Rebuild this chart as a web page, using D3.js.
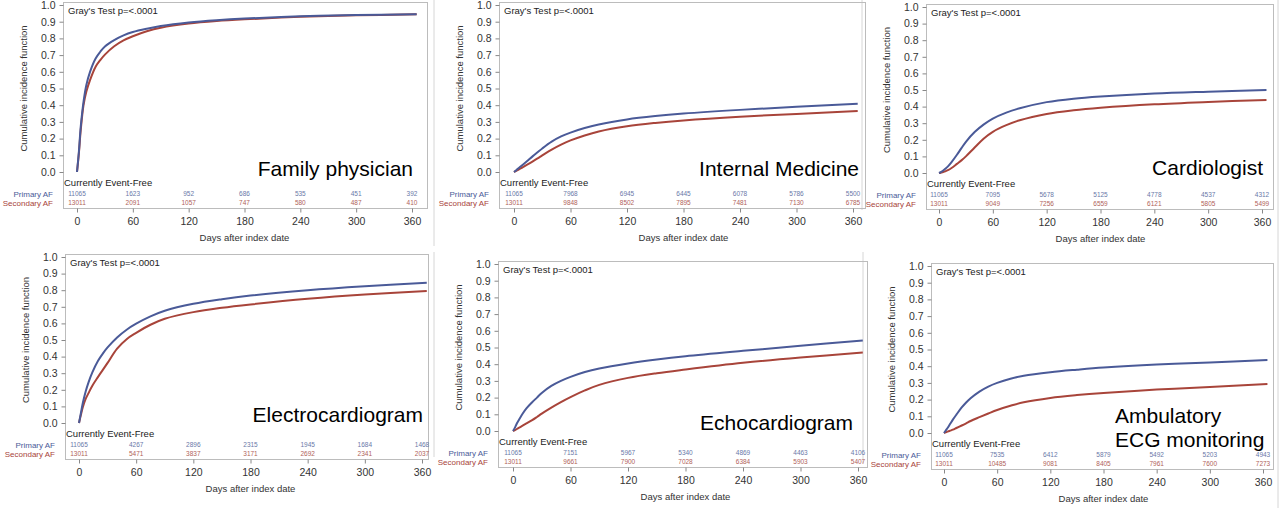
<!DOCTYPE html>
<html>
<head>
<meta charset="utf-8">
<script src="https://cdn.jsdelivr.net/npm/d3@7"></script>
<style>
  html, body { margin: 0; padding: 0; background: #fff; }
  svg { display: block; font-family: "Liberation Sans", Arial, sans-serif; }
</style>
</head>
<body>
<svg id="chart" width="1284" height="508"></svg>
<script>
// Sample days for the cumulative incidence curves
const days = [0, 2, 4, 7, 10, 14, 20, 25, 30, 40, 50, 60, 75, 90, 120, 150, 180, 240, 300, 365];
const atRiskDays = [0, 60, 120, 180, 240, 300, 360];
const groups = ["Primary AF", "Secondary AF"];

const panelNames = ["Family physician", "Internal Medicine", "Cardiologist",
  "Electrocardiogram", "Echocardiogram", "Ambulatory ECG monitoring"];

// Cumulative incidence (primary / secondary)
const familyPrimary = [0, 0.12, 0.27, 0.42, 0.52, 0.60, 0.68, 0.72, 0.752, 0.79, 0.818, 0.838, 0.858, 0.874, 0.895, 0.909, 0.919, 0.932, 0.94, 0.945];
const familySecondary = [0, 0.11, 0.25, 0.40, 0.48, 0.55, 0.63, 0.67, 0.703, 0.753, 0.788, 0.813, 0.843, 0.864, 0.889, 0.904, 0.914, 0.929, 0.938, 0.944];
const internalPrimary = [0, 0.009, 0.019, 0.033, 0.047, 0.066, 0.095, 0.118, 0.141, 0.182, 0.213, 0.236, 0.263, 0.285, 0.315, 0.335, 0.35, 0.372, 0.39, 0.408];
const internalSecondary = [0, 0.006, 0.012, 0.021, 0.031, 0.044, 0.064, 0.081, 0.099, 0.134, 0.164, 0.189, 0.219, 0.243, 0.274, 0.294, 0.309, 0.331, 0.348, 0.365];
const cardioPrimary = [0, 0.005, 0.012, 0.025, 0.04, 0.066, 0.11, 0.15, 0.188, 0.248, 0.293, 0.328, 0.364, 0.39, 0.427, 0.448, 0.461, 0.479, 0.49, 0.50];
const cardioSecondary = [0, 0.002, 0.005, 0.01, 0.017, 0.03, 0.055, 0.076, 0.10, 0.155, 0.208, 0.248, 0.288, 0.318, 0.356, 0.378, 0.393, 0.414, 0.428, 0.44];
const ecgPrimary = [0, 0.06, 0.12, 0.19, 0.245, 0.305, 0.375, 0.418, 0.455, 0.515, 0.562, 0.598, 0.642, 0.676, 0.718, 0.746, 0.768, 0.80, 0.824, 0.845];
const ecgSecondary = [0, 0.05, 0.095, 0.145, 0.18, 0.225, 0.278, 0.32, 0.362, 0.448, 0.505, 0.543, 0.592, 0.628, 0.668, 0.694, 0.714, 0.748, 0.774, 0.795];
const echoPrimary = [0, 0.02, 0.045, 0.075, 0.103, 0.135, 0.172, 0.2, 0.228, 0.27, 0.3, 0.324, 0.353, 0.374, 0.404, 0.428, 0.448, 0.48, 0.51, 0.542];
const echoSecondary = [0, 0.005, 0.012, 0.022, 0.032, 0.045, 0.065, 0.084, 0.104, 0.14, 0.173, 0.203, 0.243, 0.276, 0.318, 0.346, 0.368, 0.408, 0.44, 0.47];
const ambuPrimary = [0, 0.015, 0.03, 0.055, 0.08, 0.11, 0.153, 0.183, 0.208, 0.248, 0.278, 0.30, 0.325, 0.343, 0.364, 0.379, 0.392, 0.41, 0.422, 0.437];
const ambuSecondary = [0, 0.004, 0.008, 0.014, 0.02, 0.03, 0.045, 0.058, 0.072, 0.095, 0.117, 0.138, 0.163, 0.184, 0.21, 0.227, 0.24, 0.26, 0.276, 0.293];

// Currently event-free counts at each tick
const familyRisk = [[11065, 1623, 952, 686, 535, 451, 392], [13011, 2091, 1057, 747, 580, 487, 410]];
const internalRisk = [[11065, 7968, 6945, 6445, 6078, 5786, 5500], [13011, 9848, 8502, 7895, 7481, 7130, 6785]];
const cardioRisk = [[11065, 7095, 5678, 5125, 4778, 4537, 4312], [13011, 9049, 7256, 6559, 6121, 5805, 5499]];
const ecgRisk = [[11065, 4267, 2896, 2315, 1945, 1684, 1468], [13011, 5471, 3837, 3171, 2692, 2341, 2037]];
const echoRisk = [[11065, 7151, 5967, 5340, 4869, 4463, 4106], [13011, 9661, 7900, 7028, 6384, 5903, 5407]];
const ambuRisk = [[11065, 7535, 6412, 5879, 5492, 5203, 4943], [13011, 10485, 9081, 8405, 7961, 7600, 7273]];

const COLORS = ["#4a5a98", "#a8443a"];
const RISK_COLORS = ["#6a78a8", "#b0625a"];

// Where each panel sits in the picture
const layouts = [
  {left: 63, right: 427, x0: 77, x360: 412, y0: 172, y1: 5,
    lines: ["Family physician"], lx: 413, ly: [176], anchor: "end"},
  {left: 499, right: 865, x0: 514, x360: 853, y0: 172, y1: 5,
    lines: ["Internal Medicine"], lx: 859, ly: [176], anchor: "end"},
  {left: 926, right: 1273, x0: 939, x360: 1262, y0: 173, y1: 7,
    lines: ["Cardiologist"], lx: 1263, ly: [175], anchor: "end"},
  {left: 65, right: 428, x0: 79, x360: 422, y0: 423, y1: 257,
    lines: ["Electrocardiogram"], lx: 423, ly: [422], anchor: "end"},
  {left: 498, right: 867, x0: 513, x360: 858, y0: 431, y1: 264,
    lines: ["Echocardiogram"], lx: 853, ly: [430], anchor: "end"},
  {left: 931, right: 1273, x0: 944, x360: 1263, y0: 433, y1: 266,
    lines: ["Ambulatory", "ECG monitoring"], lx: 1115, ly: [423, 447], anchor: "start"},
];

const curves = [
  [familyPrimary, familySecondary], [internalPrimary, internalSecondary],
  [cardioPrimary, cardioSecondary], [ecgPrimary, ecgSecondary],
  [echoPrimary, echoSecondary], [ambuPrimary, ambuSecondary]
];
const risks = [familyRisk, internalRisk, cardioRisk, ecgRisk, echoRisk, ambuRisk];

let svg = d3.select("#chart");

// faint borders of the pasted screenshots
const seams = [[434, 0, 434, 246], [862, 0, 862, 210], [1278, 0, 1278, 508],
  [434, 252, 434, 457], [863, 252, 863, 463]];
svg.selectAll("line.seam").data(seams).enter().append("line")
  .attr("class", "seam")
  .attr("x1", d => d[0]).attr("y1", d => d[1])
  .attr("x2", d => d[2]).attr("y2", d => d[3])
  .attr("stroke", "#d6d6d6").attr("stroke-width", 1);

layouts.forEach((lay, i) => makeCIFPanel(svg, lay, curves[i], risks[i], panelNames[i]));

function makeCIFPanel(svg, lay, series, risk, name) {
  let top = lay.y1 - 3;
  let bottom = lay.y0 + 36;

  let x = d3.scaleLinear().domain([0, 360]).range([lay.x0, lay.x360]);
  let y = d3.scaleLinear().domain([0, 1]).range([lay.y0, lay.y1]);

  let g = svg.append("g").attr("class", "panel");

  g.append("rect")
    .attr("x", lay.left + 0.5).attr("y", top + 0.5)
    .attr("width", lay.right - lay.left).attr("height", bottom - top)
    .attr("fill", "none").attr("stroke", "#bcbcbc");

  let yAxis = g.append("g")
    .attr("transform", `translate(${lay.left + 0.5},0)`)
    .call(d3.axisLeft(y).tickValues(d3.range(0, 1.001, 0.1))
      .tickFormat(d3.format(".1f")).tickSize(4).tickPadding(4));
  yAxis.select(".domain").remove();
  yAxis.selectAll("line").attr("stroke", "#888");
  yAxis.selectAll("text").attr("fill", "#333").style("font-size", "10.5px")
    .style("font-family", "Liberation Sans, Arial, sans-serif");

  let xAxis = g.append("g")
    .attr("transform", `translate(0,${bottom + 0.5})`)
    .call(d3.axisBottom(x).tickValues(atRiskDays).tickSize(4).tickPadding(5));
  xAxis.select(".domain").remove();
  xAxis.selectAll("line").attr("stroke", "#888");
  xAxis.selectAll("text").attr("fill", "#333").style("font-size", "10.5px")
    .style("font-family", "Liberation Sans, Arial, sans-serif");

  g.append("text")
    .attr("transform", `translate(${lay.left - 39},${(lay.y0 + lay.y1) / 2}) rotate(-90)`)
    .attr("text-anchor", "middle").attr("dy", "0.35em")
    .attr("font-size", "9.5px").attr("fill", "#333")
    .text("Cumulative incidence function");

  g.append("text")
    .attr("x", (lay.x0 + lay.x360) / 2).attr("y", lay.y0 + 66).attr("dy", "0.35em")
    .attr("text-anchor", "middle").attr("font-size", "9.5px").attr("fill", "#333")
    .text("Days after index date");

  g.append("text")
    .attr("x", lay.left + 5).attr("y", lay.y1 + 6).attr("dy", "0.35em")
    .attr("font-size", "9.5px").attr("fill", "#222")
    .text("Gray's Test p=<.0001");

  let line = d3.line()
    .x((d, j) => x(days[j]))
    .y(d => y(d))
    .curve(d3.curveCatmullRom.alpha(0.5));

  // secondary first so the primary line sits on top
  [1, 0].forEach(k => {
    g.append("path")
      .datum(series[k])
      .attr("d", line)
      .attr("fill", "none")
      .attr("stroke", COLORS[k])
      .attr("stroke-width", 2)
      .attr("stroke-linejoin", "round");
  });

  let big = g.append("text")
    .attr("text-anchor", lay.anchor)
    .attr("font-size", "21px").attr("fill", "#000");
  lay.lines.forEach((t, j) => {
    big.append("tspan").attr("x", lay.lx).attr("y", lay.ly[j]).text(t);
  });

  g.append("text")
    .attr("x", lay.left + 1).attr("y", lay.y0 + 11).attr("dy", "0.35em")
    .attr("font-size", "9.5px").attr("fill", "#222")
    .text("Currently Event-Free");

  groups.forEach((grp, k) => {
    let rowY = lay.y0 + 22 + k * 9;
    g.append("text")
      .attr("x", lay.left - 10).attr("y", rowY).attr("dy", "0.35em")
      .attr("text-anchor", "end").attr("font-size", "8px")
      .attr("fill", COLORS[k]).text(grp);
    g.selectAll(null).data(risk[k]).enter().append("text")
      .attr("x", (d, j) => x(atRiskDays[j])).attr("y", rowY).attr("dy", "0.35em")
      .attr("text-anchor", "middle").attr("font-size", "6.5px")
      .attr("fill", RISK_COLORS[k]).text(d => d);
  });
}
</script>
</body>
</html>
